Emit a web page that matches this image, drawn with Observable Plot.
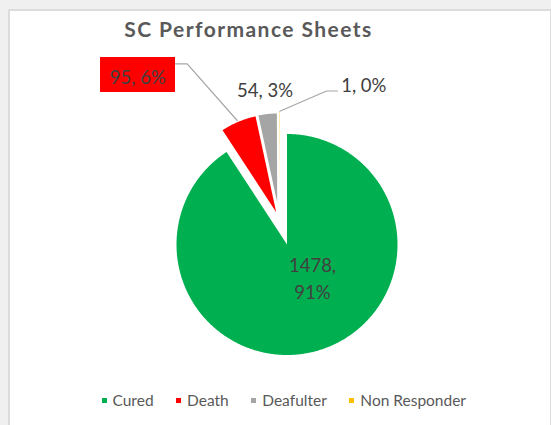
<!DOCTYPE html>
<html><head><meta charset="utf-8">
<script src="https://cdn.jsdelivr.net/npm/d3@7"></script>
<script src="https://cdn.jsdelivr.net/npm/@observablehq/plot@0.6"></script>
<style>
html,body{margin:0;padding:0;background:#f0f0f0;}
#wrap{position:relative;width:551px;height:425px;overflow:hidden;background:#f0f0f0;font-family:Lato,sans-serif;}
#panel{position:absolute;left:8px;top:9px;width:540px;height:420px;background:#fff;border:2px solid #dcdcdc;border-bottom:none;}
#chart{position:absolute;left:0;top:0;}
#title{position:absolute;left:0;width:497px;top:16px;text-align:center;font-weight:bold;font-size:21px;letter-spacing:1.45px;color:#595959;line-height:1.2;white-space:nowrap;}
#legend{position:absolute;left:101.5px;top:391px;display:flex;align-items:center;font-size:15.5px;color:#595959;line-height:18px;white-space:nowrap;}
.item{display:flex;align-items:center;margin-right:22.5px;}
.sw{width:5px;height:5px;margin-right:6px;}
</style></head>
<body><div id="wrap"><div id="panel"></div><div id="chart"></div><div id="title"></div><div id="legend"></div></div>
<script>
const title = "SC Performance Sheets";
const categories = ["Cured", "Death", "Deafulter", "Non Responder"];
const values = [1478, 95, 54, 1];
const colors = ["#00B050", "#FF0000", "#A5A5A5", "#FFC000"];

// layout constants (pixels)
const W = 551, H = 425;
const center = [286.5, 244];
const sliceLayout = [
  {dx: 0, dy: 0, r: 110.5},
  {dx: -10.8, dy: -32.3, r: 98},
  {dx: -9.8, dy: -42, r: 89},
  {dx: -7.5, dy: -44, r: 89}
];
const labelLayout = [
  {x: 312, y: 298.3},
  {x: 137.3, y: 83.3, box: [100, 57, 175, 92], leader: [[175, 63.3], [186.7, 63.3], [236.7, 120]]},
  {x: 264.5, y: 96.7},
  {x: 363.3, y: 91.5, leader: [[337, 90.5], [326, 90.5], [279.3, 110.7]]}
];

const total = d3.sum(values);
const arcs = d3.pie().sort(null).value(d => d).startAngle(0).endAngle(2 * Math.PI)(values);

const slicePoints = [];
arcs.forEach((a, i) => {
  const L = sliceLayout[i];
  const ax = center[0] + L.dx, ay = center[1] + L.dy;
  const push = (x, y) => slicePoints.push({category: categories[i], x, y});
  push(ax, ay);
  const span = a.endAngle - a.startAngle;
  const n = Math.max(2, Math.ceil(span / (Math.PI / 360)));
  for (let k = 0; k <= n; k++) {
    const t = a.startAngle + span * k / n;
    push(ax + L.r * Math.sin(t), ay - L.r * Math.cos(t));
  }
});

const labels = categories.map((c, i) => {
  const pct = Math.round(values[i] / total * 100);
  const text = i === 0 ? `${values[i]},\n${pct}%` : `${values[i]}, ${pct}%`;
  return {category: c, text, x: labelLayout[i].x, y: labelLayout[i].y};
});
const boxes = labelLayout.map((l, i) => l.box ? {category: categories[i], x1: l.box[0], y1: l.box[1], x2: l.box[2], y2: l.box[3]} : null).filter(Boolean);
const leaders = [];
labelLayout.forEach((l, i) => { if (l.leader) l.leader.forEach(p => leaders.push({id: categories[i], x: p[0], y: p[1]})); });

const plot = Plot.plot({
  width: W, height: H,
  marginTop: 0, marginRight: 0, marginBottom: 0, marginLeft: 0,
  style: {background: "transparent", overflow: "visible"},
  x: {domain: [0, W], range: [0, W], axis: null},
  y: {domain: [0, H], range: [0, H], axis: null},
  color: {domain: categories, range: colors},
  marks: [
    Plot.line(slicePoints, {x: "x", y: "y", z: "category", fill: "category", stroke: "none", curve: "linear-closed"}),
    Plot.line(leaders, {x: "x", y: "y", z: "id", stroke: "#A6A6A6", strokeWidth: 1.2}),
    Plot.rect(boxes, {x1: "x1", x2: "x2", y1: "y1", y2: "y2", fill: "category"}),
    Plot.text(labels, {x: "x", y: "y", text: "text", fill: "#404040", fontSize: 18.5, fontFamily: "Lato", lineAnchor: "bottom", lineHeight: 1.44, textAnchor: "middle"})
  ]
});
document.getElementById("chart").appendChild(plot);
document.getElementById("title").textContent = title;

const legend = document.getElementById("legend");
categories.forEach((c, i) => {
  const item = document.createElement("div");
  item.className = "item";
  const sw = document.createElement("div");
  sw.className = "sw";
  sw.style.background = colors[i];
  const t = document.createElement("span");
  t.textContent = c;
  item.appendChild(sw); item.appendChild(t);
  legend.appendChild(item);
});
</script>
</body></html>
